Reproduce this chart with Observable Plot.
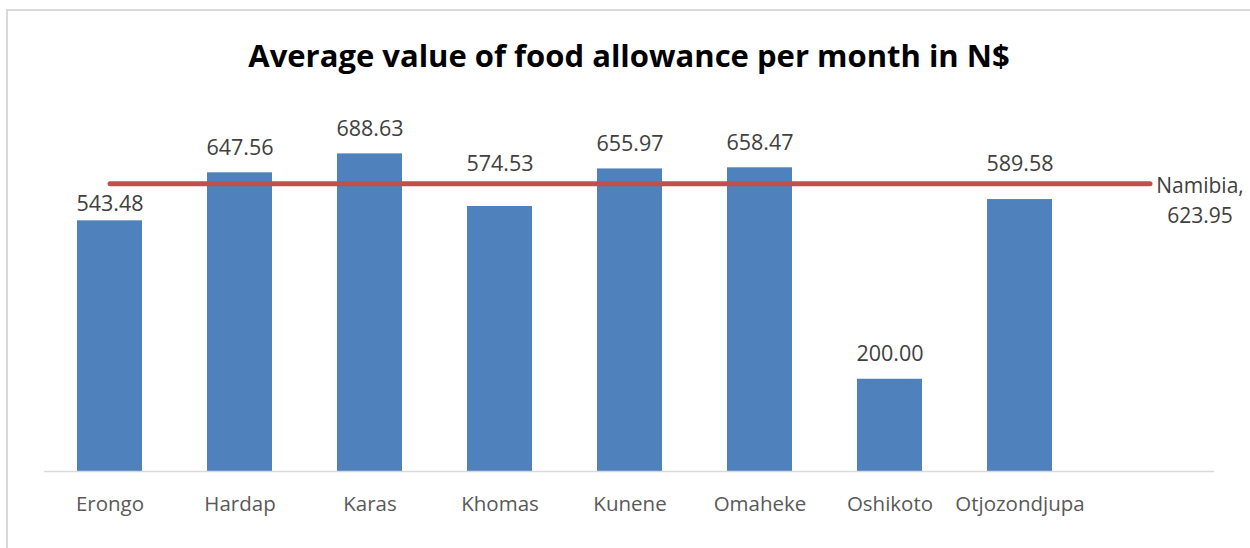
<!DOCTYPE html>
<html>
<head>
<meta charset="utf-8">
<script src="https://cdn.jsdelivr.net/npm/d3@7"></script>
<script src="https://cdn.jsdelivr.net/npm/@observablehq/plot@0.6"></script>
<style>
  html, body { margin: 0; padding: 0; background: #fff; overflow: hidden; }
  #wrap { position: relative; width: 1250px; height: 548px; overflow: hidden; }
  #frame { position: absolute; left: 6px; top: 9px; width: 1400px; height: 700px; border: 2px solid #d9d9d9; box-sizing: border-box; }
  #title { position: absolute; left: 0; top: 0; width: 1258px; height: 90px; text-align: center; line-height: 110px;
           font-family: "Open Sans", sans-serif; font-weight: bold; font-size: 31px; color: #000; }
  #chart { position: absolute; left: 0; top: 90px; }
</style>
</head>
<body>
<div id="wrap">
  <div id="frame"></div>
  <div id="title">Average value of food allowance per month in N$</div>
  <div id="chart"></div>
</div>
<script>
const regions = ["Erongo", "Hardap", "Karas", "Khomas", "Kunene", "Omaheke", "Oshikoto", "Otjozondjupa"];
const values = [543.48, 647.56, 688.63, 574.53, 655.97, 658.47, 200.00, 589.58];
const nationalName = "Namibia";
const nationalValue = 623.95;

const categories = [...regions, nationalName];
const bars = regions.map((r, i) => ({region: r, value: values[i]}));
const lineData = categories.map(c => ({region: c, value: nationalValue}));

const W = 1250, H = 458, mTop = 12, mBottom = 77, yMax = 800;
const k = (H - mTop - mBottom) / yMax; // px per unit
const off = 25 / k, gap = 20 / k;
const labels = bars.map(d => {
  let v = d.value + off;
  if (Math.abs(v - nationalValue) < gap) v = v < nationalValue ? nationalValue - gap : nationalValue + gap;
  return {region: d.region, value: d.value, pos: v};
});

const font = "'Open Sans', sans-serif";
const chart = Plot.plot({
  width: W,
  height: H,
  marginTop: mTop,
  marginBottom: mBottom,
  marginLeft: 44,
  marginRight: 36,
  style: {fontFamily: font, background: "transparent", overflow: "visible"},
  x: {domain: categories, paddingInner: 0.5, paddingOuter: 0.25, label: null},
  y: {domain: [0, yMax], axis: null},
  marks: [
    Plot.barY(bars, {x: "region", y: "value", fill: "#4F81BD"}),
    Plot.ruleY([0], {stroke: "#d9d9d9", strokeWidth: 1.5}),
    Plot.axisX({tickSize: 0, tickPadding: 25, fontSize: 20.5, fill: "#595959",
                tickFormat: d => d === nationalName ? "" : d, label: null}),
    Plot.line(lineData, {x: "region", y: "value", stroke: "#C0504D", strokeWidth: 5, strokeLinecap: "round"}),
    Plot.text(labels, {x: "region", y: "pos", text: d => d.value.toFixed(2), fontSize: 21.5, fill: "#404040"}),
    Plot.text([{region: nationalName, value: nationalValue}], {
      x: "region", y: "value", text: d => `${d.region},\n${d.value.toFixed(2)}`,
      dx: 50, dy: 15, lineHeight: 1.43, fontSize: 21, fill: "#404040", textAnchor: "middle"})
  ]
});
document.getElementById("chart").appendChild(chart);
</script>
</body>
</html>
